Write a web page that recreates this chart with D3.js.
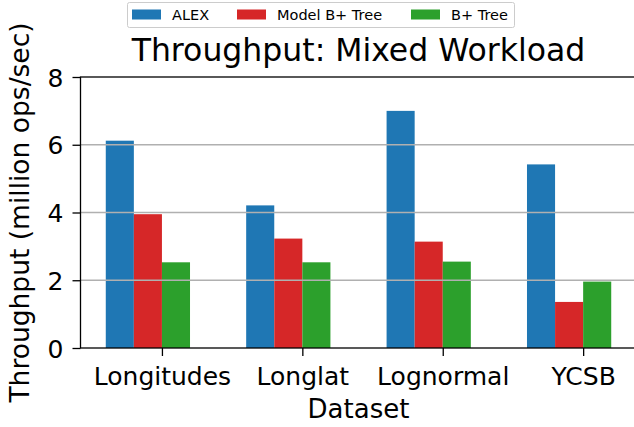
<!DOCTYPE html>
<html>
<head>
<meta charset="utf-8">
<script src="https://cdn.jsdelivr.net/npm/d3@7"></script>
<style>
  body { margin: 0; background: #fff; }
  text { font-family: "DejaVu Sans", sans-serif; fill: #000; }
</style>
</head>
<body>
<svg id="chart" width="634" height="427"></svg>
<script>
var datasets = ["Longitudes", "Longlat", "Lognormal", "YCSB"];
var seriesNames = ["ALEX", "Model B+ Tree", "B+ Tree"];
var seriesColors = ["#1f77b4", "#d62728", "#2ca02c"];
var alex = [6.12, 4.21, 7.0, 5.42];
var modelBTree = [3.95, 3.23, 3.14, 1.36];
var bTree = [2.53, 2.53, 2.55, 1.96];
var yTicks = [0, 2, 4, 6, 8];

var values = [alex, modelBTree, bTree];
var offsets = [-0.4, -0.2, 0];  // left edge of each bar, group-relative
var barW = 0.2;

var svg = d3.select("#chart"),
  margin = {top: 77, left: 80.5, bottom: 79},
  height = +svg.attr("height") - margin.top - margin.bottom;

var x = d3.scaleLinear().domain([-0.58, 3.38]).range([margin.left, 636.5]);
var y = d3.scaleLinear().domain([0, 8]).range([margin.top + height, margin.top]);

// bars
seriesNames.forEach(function(name, s) {
  svg.append("g").selectAll("rect")
    .data(values[s])
    .enter().append("rect")
    .attr("x", function(d, i) { return x(i + offsets[s]); })
    .attr("y", function(d) { return y(d); })
    .attr("width", function(d, i) { return x(i + offsets[s] + barW) - x(i + offsets[s]); })
    .attr("height", function(d) { return y(0) - y(d); })
    .attr("fill", seriesColors[s]);
});

// grid over the bars
svg.append("g").selectAll("line")
  .data(yTicks.slice(1, -1))
  .enter().append("line")
  .attr("x1", x.range()[0]).attr("x2", x.range()[1])
  .attr("y1", function(d) { return y(d); })
  .attr("y2", function(d) { return y(d); })
  .attr("stroke", "#b0b0b0")
  .attr("stroke-width", 1.6);

// axes
var yAxis = d3.axisLeft(y).tickValues(yTicks).tickSize(8).tickPadding(9);
var gy = svg.append("g")
  .attr("transform", "translate(" + margin.left + ",0)")
  .call(yAxis);
gy.select(".domain").remove();
gy.selectAll("line").attr("stroke", "#000").attr("stroke-width", 1.3);
gy.selectAll("text").style("font-size", "25px").attr("dy", "0.36em");

var xAxis = d3.axisBottom(x).tickValues(d3.range(datasets.length))
  .tickFormat(function(i) { return datasets[i]; }).tickSize(8).tickPadding(0);
var gx = svg.append("g")
  .attr("transform", "translate(0," + y(0) + ")")
  .call(xAxis);
gx.select(".domain").remove();
gx.selectAll("line").attr("stroke", "#000").attr("stroke-width", 1.3);
gx.selectAll("text").style("font-size", "25px").attr("y", 37).attr("dy", null);

// spines
svg.append("rect")
  .attr("x", x.range()[0]).attr("y", y(8))
  .attr("width", x.range()[1] - x.range()[0])
  .attr("height", y(0) - y(8))
  .attr("fill", "none").attr("stroke", "#000").attr("stroke-width", 1.3);

// labels
svg.append("text")
  .attr("x", (x.range()[0] + x.range()[1]) / 2).attr("y", 61)
  .attr("text-anchor", "middle").style("font-size", "31.5px")
  .text("Throughput: Mixed Workload");

svg.append("text")
  .attr("x", (x.range()[0] + x.range()[1]) / 2).attr("y", 418)
  .attr("text-anchor", "middle").style("font-size", "26px")
  .text("Dataset");

svg.append("text")
  .attr("transform", "translate(29," + (y(4)) + ") rotate(-90)")
  .attr("text-anchor", "middle").style("font-size", "26.5px")
  .text("Throughput (million ops/sec)");

// legend
var legend = svg.append("g");
legend.append("rect")
  .attr("x", 127.5).attr("y", 2.5).attr("width", 387).attr("height", 25)
  .attr("rx", 2).attr("fill", "#fff").attr("stroke", "#ccc");
var legendX = [132, 237, 411];
seriesNames.forEach(function(name, s) {
  legend.append("rect")
    .attr("x", legendX[s]).attr("y", 9.5).attr("width", 29).attr("height", 10)
    .attr("fill", seriesColors[s]);
  legend.append("text")
    .attr("x", legendX[s] + 40).attr("y", 20)
    .style("font-size", "14.5px")
    .text(name);
});
</script>
</body>
</html>
